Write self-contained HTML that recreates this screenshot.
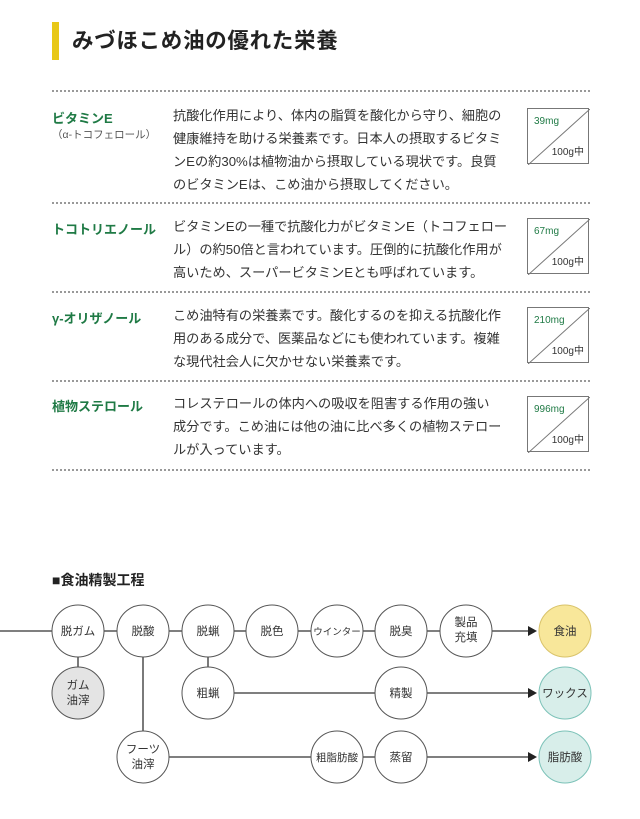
<!DOCTYPE html>
<html><head><meta charset="utf-8"><style>
body{margin:0;width:640px;height:819px;background:#fff;position:relative;font-family:"Liberation Sans","Noto Sans CJK JP",sans-serif;color:#333;overflow:hidden}
.a{position:absolute}
.bar{left:52px;top:22px;width:7px;height:38px;background:#e8c817}
.title{left:72px;top:24px;font-size:21.5px;font-weight:bold;color:#222;letter-spacing:0.7px}
.dot{left:52px;width:538px;border-top:2px dotted #999;height:0}
.lab{left:52px;font-size:13px;font-weight:bold;color:#1f7a45}
.sub{left:52px;font-size:10.5px;color:#555}
.txt{left:173px;font-size:13.2px;line-height:23px;color:#333;white-space:nowrap}
.box{left:527px;width:62px;height:56px;border:1px solid #777;box-sizing:border-box}
.box svg{position:absolute;left:0;top:0}
.mg{position:absolute;left:6px;top:7px;font-size:10px;color:#1f7a45}
.g{position:absolute;right:4px;bottom:5px;font-size:10px;color:#333}
</style></head><body>
<div class="a bar"></div>
<div class="a title">みづほこめ油の優れた栄養</div>

<div class="a dot" style="top:90px"></div>
<div class="a lab" style="top:108px">ビタミンE</div>
<div class="a sub" style="top:127px">（α-トコフェロール）</div>
<div class="a txt" style="top:104px">抗酸化作用により、体内の脂質を酸化から守り、細胞の<br>健康維持を助ける栄養素です。日本人の摂取するビタミ<br>ンEの約30%は植物油から摂取している現状です。良質<br>のビタミンEは、こめ油から摂取してください。</div>
<div class="a box" style="top:108px"><svg width="62" height="56"><line x1="0" y1="56" x2="62" y2="0" stroke="#777"/></svg><span class="mg">39mg</span><span class="g">100g中</span></div>

<div class="a dot" style="top:202px"></div>
<div class="a lab" style="top:219px">トコトリエノール</div>
<div class="a txt" style="top:215px">ビタミンEの一種で抗酸化力がビタミンE（トコフェロー<br>ル）の約50倍と言われています。圧倒的に抗酸化作用が<br>高いため、スーパービタミンEとも呼ばれています。</div>
<div class="a box" style="top:218px"><svg width="62" height="56"><line x1="0" y1="56" x2="62" y2="0" stroke="#777"/></svg><span class="mg">67mg</span><span class="g">100g中</span></div>

<div class="a dot" style="top:291px"></div>
<div class="a lab" style="top:308px">γ-オリザノール</div>
<div class="a txt" style="top:304px">こめ油特有の栄養素です。酸化するのを抑える抗酸化作<br>用のある成分で、医薬品などにも使われています。複雑<br>な現代社会人に欠かせない栄養素です。</div>
<div class="a box" style="top:307px"><svg width="62" height="56"><line x1="0" y1="56" x2="62" y2="0" stroke="#777"/></svg><span class="mg">210mg</span><span class="g">100g中</span></div>

<div class="a dot" style="top:380px"></div>
<div class="a lab" style="top:396px">植物ステロール</div>
<div class="a txt" style="top:392px">コレステロールの体内への吸収を阻害する作用の強い<br>成分です。こめ油には他の油に比べ多くの植物ステロー<br>ルが入っています。</div>
<div class="a box" style="top:396px"><svg width="62" height="56"><line x1="0" y1="56" x2="62" y2="0" stroke="#777"/></svg><span class="mg">996mg</span><span class="g">100g中</span></div>
<div class="a dot" style="top:469px"></div>

<div class="a" style="left:52px;top:570px;font-size:14px;font-weight:bold;color:#222">■食油精製工程</div>

<svg class="a" style="left:0;top:0" width="640" height="819" font-family="Liberation Sans,Noto Sans CJK JP,sans-serif" font-size="11.5" text-anchor="middle" fill="#333">
<g stroke="#333" stroke-width="1.3" fill="none">
<line x1="0" y1="631" x2="528" y2="631"/>
<line x1="78" y1="631" x2="78" y2="693"/>
<line x1="143" y1="631" x2="143" y2="757"/>
<line x1="208" y1="631" x2="208" y2="693"/>
<line x1="208" y1="693" x2="528" y2="693"/>
<line x1="143" y1="757" x2="528" y2="757"/>
</g>
<g fill="#222">
<polygon points="528,626 528,636 537,631"/>
<polygon points="528,688 528,698 537,693"/>
<polygon points="528,752 528,762 537,757"/>
</g>
<g stroke="#555" stroke-width="1">
<circle cx="78" cy="631" r="26" fill="#fff"/>
<circle cx="143" cy="631" r="26" fill="#fff"/>
<circle cx="208" cy="631" r="26" fill="#fff"/>
<circle cx="272" cy="631" r="26" fill="#fff"/>
<circle cx="337" cy="631" r="26" fill="#fff"/>
<circle cx="401" cy="631" r="26" fill="#fff"/>
<circle cx="466" cy="631" r="26" fill="#fff"/>
<circle cx="565" cy="631" r="26" fill="#f8e79a" stroke="#d9c36a"/>
<circle cx="78" cy="693" r="26" fill="#e4e4e4"/>
<circle cx="208" cy="693" r="26" fill="#fff"/>
<circle cx="401" cy="693" r="26" fill="#fff"/>
<circle cx="565" cy="693" r="26" fill="#d8eeea" stroke="#7cc2b8"/>
<circle cx="143" cy="757" r="26" fill="#fff"/>
<circle cx="337" cy="757" r="26" fill="#fff"/>
<circle cx="401" cy="757" r="26" fill="#fff"/>
<circle cx="565" cy="757" r="26" fill="#d8eeea" stroke="#7cc2b8"/>
</g>
<text x="78" y="635">脱ガム</text>
<text x="143" y="635">脱酸</text>
<text x="208" y="635">脱蝋</text>
<text x="272" y="635">脱色</text>
<text x="337" y="635" font-size="9.5">ウインター</text>
<text x="401" y="635">脱臭</text>
<text x="466" y="626">製品</text><text x="466" y="641">充填</text>
<text x="565" y="635">食油</text>
<text x="78" y="689">ガム</text><text x="78" y="704">油滓</text>
<text x="208" y="697">粗蝋</text>
<text x="401" y="697">精製</text>
<text x="565" y="697">ワックス</text>
<text x="143" y="753">フーツ</text><text x="143" y="768">油滓</text>
<text x="337" y="761" font-size="10.5">粗脂肪酸</text>
<text x="401" y="761">蒸留</text>
<text x="565" y="761">脂肪酸</text>
</svg>
</body></html>
